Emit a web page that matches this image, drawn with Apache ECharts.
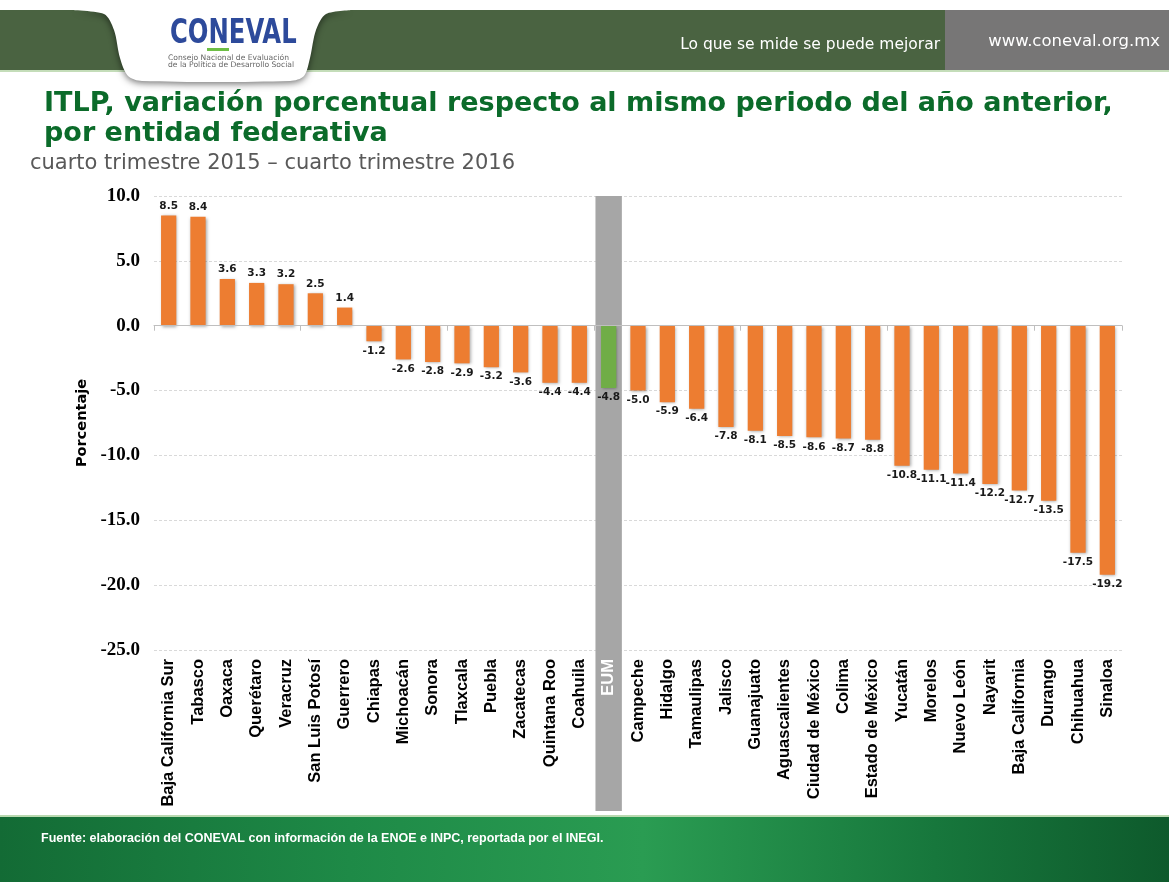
<!DOCTYPE html>
<html>
<head>
<meta charset="utf-8">
<script src="https://cdn.jsdelivr.net/npm/echarts@6/dist/echarts.min.js"></script>
<style>
  html, body { margin: 0; padding: 0; background: #fff; }
  #chart { width: 1169px; height: 882px; }
</style>
</head>
<body>
<div id="chart"></div>
<script>
// datos del ITLP por entidad (cuarto trimestre 2016 vs 2015)
const entidades = [
  'Baja California Sur', 'Tabasco', 'Oaxaca', 'Querétaro', 'Veracruz', 'San Luis Potosí',
  'Guerrero', 'Chiapas', 'Michoacán', 'Sonora', 'Tlaxcala', 'Puebla', 'Zacatecas',
  'Quintana Roo', 'Coahuila', 'EUM', 'Campeche', 'Hidalgo', 'Tamaulipas', 'Jalisco',
  'Guanajuato', 'Aguascalientes', 'Ciudad de México', 'Colima', 'Estado de México',
  'Yucatán', 'Morelos', 'Nuevo León', 'Nayarit', 'Baja California', 'Durango',
  'Chihuahua', 'Sinaloa'
];
const variacion = [
  8.5, 8.4, 3.6, 3.3, 3.2, 2.5, 1.4, -1.2, -2.6, -2.8, -2.9, -3.2, -3.6,
  -4.4, -4.4, -4.8, -5.0, -5.9, -6.4, -7.8, -8.1, -8.5, -8.6, -8.7, -8.8,
  -10.8, -11.1, -11.4, -12.2, -12.7, -13.5, -17.5, -19.2
];
const nacional = 'EUM';
const yMin = -25;
const yMax = 10;
const yStep = 5;

const ORANGE = '#ED7D31';
const GREEN = '#70AD47';

const chart = echarts.init(document.getElementById('chart'));

const seriesData = variacion.map((v, i) => {
  return {
    value: v,
    itemStyle: { color: entidades[i] === nacional ? GREEN : ORANGE },
    label: { position: v < 0 ? 'bottom' : 'top' }
  };
});

// encabezado y pie (decoración)
const decor = [
  { type: 'rect', shape: { x: 0, y: 10, width: 945, height: 60 }, style: { fill: '#4A6341' }, z: 0 },
  { type: 'rect', shape: { x: 945, y: 10, width: 224, height: 60 }, style: { fill: '#777676' }, z: 0 },
  { type: 'rect', shape: { x: 0, y: 70, width: 1169, height: 2 }, style: { fill: '#C4DDB9' }, z: 0 },
  {
    type: 'polygon',
    shape: {
      points: [[70, 10], [104, 14], [114, 30], [120, 58], [128, 76], [142, 81],
               [290, 81], [304, 76], [310, 58], [316, 30], [326, 14], [350, 10]],
      smooth: 0.3
    },
    style: { fill: '#fff', shadowBlur: 7, shadowColor: 'rgba(0,0,0,0.55)', shadowOffsetY: 2 },
    z: 1
  },
  { type: 'rect', shape: { x: 60, y: 0, width: 310, height: 10 }, style: { fill: '#fff' }, z: 1 },
  {
    type: 'text', x: 170, y: 17, z: 2, scaleY: 1.25,
    style: { text: 'CONEVAL', fill: '#2D4A9B', font: 'bold 27px "DejaVu Sans Condensed", "DejaVu Sans"' }
  },
  { type: 'rect', shape: { x: 207, y: 48, width: 22, height: 3 }, style: { fill: '#6DBE45' }, z: 2 },
  {
    type: 'text', x: 168, y: 54, z: 2,
    style: { text: 'Consejo Nacional de Evaluación\nde la Política de Desarrollo Social', fill: '#666', font: '7.6px "DejaVu Sans"', lineHeight: 7.5 }
  },
  {
    type: 'text', x: 940, y: 45, z: 2,
    style: { text: 'Lo que se mide se puede mejorar', fill: '#fff', font: '15.5px "DejaVu Sans"', align: 'right', verticalAlign: 'middle' }
  },
  {
    type: 'text', x: 1160, y: 42, z: 2,
    style: { text: 'www.coneval.org.mx', fill: '#fff', font: '16.5px "DejaVu Sans"', align: 'right', verticalAlign: 'middle' }
  },
  {
    type: 'rect', shape: { x: 0, y: 817, width: 1169, height: 65 }, z: 0,
    style: {
      fill: {
        type: 'linear', x: 0, y: 0, x2: 1, y2: 0.3,
        colorStops: [
          { offset: 0, color: '#136B35' },
          { offset: 0.3, color: '#1E8A47' },
          { offset: 0.55, color: '#2A9C52' },
          { offset: 0.8, color: '#17773C' },
          { offset: 1, color: '#0E5A2C' }
        ]
      }
    }
  },
  { type: 'rect', shape: { x: 0, y: 815, width: 1169, height: 2 }, style: { fill: '#B9D9B0' }, z: 0 },
  {
    type: 'text', x: 41, y: 839, z: 2,
    style: { text: 'Fuente: elaboración del CONEVAL con información de la ENOE e INPC, reportada por el INEGI.', fill: '#fff', font: 'bold 12.5px "Liberation Sans Narrow", "Liberation Sans"', verticalAlign: 'middle' }
  },
  {
    type: 'text', x: 44, y: 89, z: 2,
    style: {
      text: 'ITLP, variación porcentual respecto al mismo periodo del año anterior,\npor entidad federativa',
      fill: '#0B6B2A', font: 'bold 27px "DejaVu Sans"', lineHeight: 30, verticalAlign: 'top'
    }
  },
  {
    type: 'text', x: 30, y: 164, z: 2,
    style: { text: 'cuarto trimestre 2015 – cuarto trimestre 2016', fill: '#595959', font: '21px "DejaVu Sans"', verticalAlign: 'middle' }
  }
];

const option = {
  animation: false,
  backgroundColor: '#fff',
  grid: { left: 154, right: 47, top: 196, bottom: 232 },
  xAxis: [
    {
      type: 'category',
      data: entidades,
      z: 5,
      axisLine: { show: false, onZero: false },
      axisTick: { show: false },
      axisLabel: {
        interval: 0,
        rotate: 90,
        margin: 9,
        color: '#000',
        fontFamily: '"Liberation Sans", sans-serif',
        fontWeight: 'bold',
        fontSize: 16.5,
        formatter: function (v) {
          return v === nacional ? '{w|' + v + '}' : v;
        },
        rich: {
          w: { color: '#fff', fontFamily: '"Liberation Sans", sans-serif', fontWeight: 'bold', fontSize: 16.5 }
        }
      }
    },
    {
      type: 'category',
      data: entidades,
      position: 'bottom',
      z: 5,
      axisLine: { show: true, onZero: true, onZeroAxisIndex: 0, lineStyle: { color: '#BFBFBF', width: 1 } },
      axisTick: { show: true, length: 5, lineStyle: { color: '#BFBFBF' } },
      axisLabel: { show: false }
    }
  ],
  yAxis: {
    type: 'value',
    min: yMin,
    max: yMax,
    interval: yStep,
    name: 'Porcentaje',
    nameLocation: 'middle',
    nameGap: 64,
    nameRotate: 90,
    nameTextStyle: { color: '#000', fontWeight: 'bold', fontSize: 14.5, fontFamily: '"DejaVu Sans", sans-serif' },
    axisLine: { show: false },
    axisTick: { show: false },
    axisLabel: {
      margin: 14,
      color: '#000',
      fontWeight: 'bold',
      fontSize: 19,
      fontFamily: '"Liberation Serif", serif',
      formatter: v => v.toFixed(1)
    },
    splitLine: { lineStyle: { color: '#D9D9D9', type: [3, 2] } }
  },
  graphic: { elements: decor },
  series: [
    {
      type: 'bar',
      data: seriesData,
      barWidth: '52%',
      z: 4,
      itemStyle: {
        shadowBlur: 3,
        shadowColor: 'rgba(0,0,0,0.35)',
        shadowOffsetX: 1,
        shadowOffsetY: 1
      },
      label: {
        show: true,
        distance: 4,
        color: '#1A1A1A',
        fontFamily: '"DejaVu Sans", sans-serif',
        fontWeight: 'bold',
        fontSize: 10.5,
        formatter: p => p.value.toFixed(1)
      }
    }
  ]
};

chart.setOption(option);

// franja gris del total nacional, ubicada con la escala de la gráfica
const xCenter = chart.convertToPixel({ xAxisIndex: 0 }, nacional);
const xNext = chart.convertToPixel({ xAxisIndex: 0 }, entidades[1]);
const xFirst = chart.convertToPixel({ xAxisIndex: 0 }, entidades[0]);
const catW = xNext - xFirst;
const bandW = catW * 0.9;
const yTop = chart.convertToPixel({ yAxisIndex: 0 }, yMax);
chart.setOption({
  graphic: {
    elements: decor.concat([
      {
        type: 'rect',
        shape: { x: xCenter - bandW / 2, y: yTop, width: bandW, height: 811 - yTop },
        style: { fill: '#A6A6A6' },
        z: 1
      }
    ])
  }
});
</script>
</body>
</html>
